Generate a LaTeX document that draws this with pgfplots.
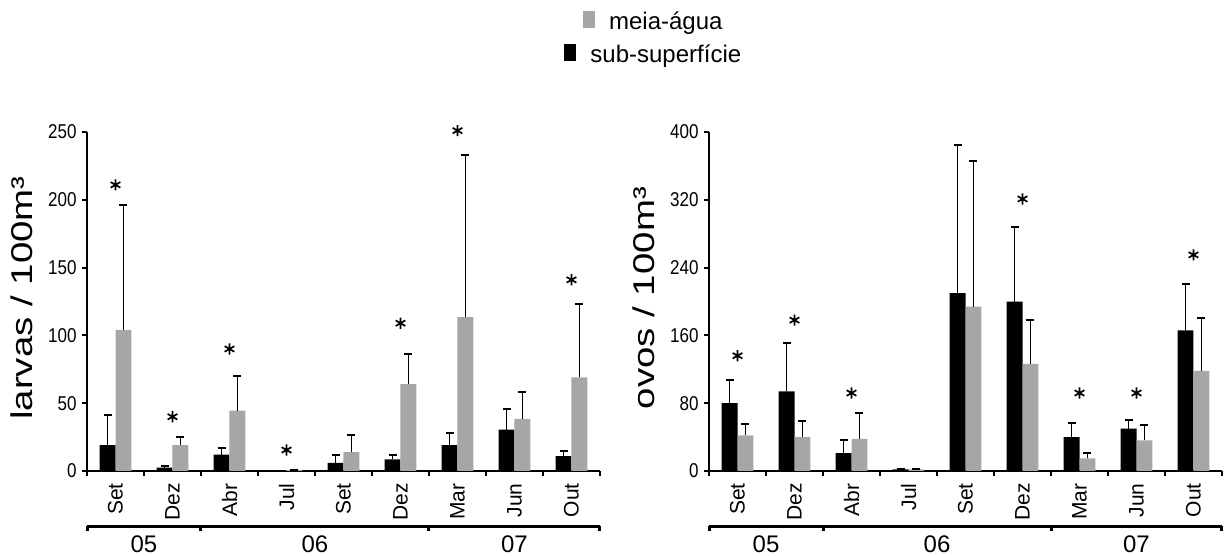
\documentclass[border=0pt]{standalone}
\usepackage{fontspec}
\setmainfont{Liberation Sans}
\usepackage{pgfplots}
\usepackage{pgfplotstable}
\pgfplotsset{compat=1.18}
\definecolor{MeiaGray}{HTML}{A6A6A6}

% x: sample index, sub / meia: mean, sube / meiae: upper error
\pgfplotstableread{
x sub  sube meia  meiae
0 19   22   104   92
1 2.5  1    19    6
2 12   5    44.5  25.5
3 0    0    0.7   0.3
4 6    6    14    12.5
5 8.5  3.5  64    22
6 19   9    113.5 119.5
7 30.5 15.5 38.5  19.5
8 11   4    69    54
}\larvas
\pgfplotstableread{
x sub  sube meia  meiae
0 80   27   42    13
1 94   57   40    18.5
2 21   16   38    31
3 2    0    2     0
4 210  175  194   172
5 200  88   126.5 52
6 40   16.5 15    6
7 50   10.5 36    18.5
8 166  54.5 118   62.5
}\ovos

\pgfplotsset{
  panel/.style={
    scale only axis, width=256.5pt, height=169.5pt, anchor=south west,
    xmin=-0.5, xmax=8.5, ymin=0, enlargelimits=false, clip=false,
    axis x line=bottom, axis y line=left,
    axis line style={-, line width=1.1pt, black},
    tick align=outside, major tick length=2.5pt,
    tick style={line width=1pt, black},
    xtick={-0.5,0.5,...,8.5}, xticklabels={},
    extra x ticks={0,...,8},
    extra x tick labels={Set,Dez,Abr,Jul,Set,Dez,Mar,Jun,Out},
    extra x tick style={major tick length=0pt},
    xticklabel style={rotate=90, anchor=east, inner sep=0pt,
      font=\fontsize{10.5}{12}\selectfont, xshift=-6pt},
    /pgf/number format/assume math mode=true,
    yticklabel style={font=\fontsize{10}{11}\selectfont, xscale=0.85,
      inner sep=0pt, anchor=east, xshift=-3pt},
    ylabel style={at={(axis description cs:-0.107,0.51)}, anchor=base,
      font=\fontsize{15}{16}\selectfont, xscale=1.28},
  },
  years/.style={
    scale only axis, width=256.5pt, height=4pt, anchor=south west,
    xmin=-0.5, xmax=8.5, ymin=0, ymax=1, enlargelimits=false,
    axis x line=bottom, axis y line=none,
    axis line style={-, line width=1.5pt, black},
    xtick={0.5,3.5,7}, xticklabels={05,06,07},
    major tick length=0pt,
    minor xtick={-0.5,1.5,5.5,8.5}, minor tick length=2.5pt,
    tick align=outside, minor tick style={line width=1.5pt, black},
    xticklabel style={font=\fontsize{12}{14}\selectfont, anchor=north,
      inner sep=0pt, yshift=-4.5pt},
  },
  subbar/.style={ybar, bar width=7.98pt, bar shift=-3.99pt, fill=black, draw=none},
  meiabar/.style={ybar, bar width=7.98pt, bar shift=3.99pt, fill=MeiaGray, draw=none},
  err/.style={error bars/.cd, y dir=plus, y explicit,
    error bar style={line width=0.5pt, black, xshift=#1},
    error mark options={rotate=90, line width=1pt, mark size=2pt, black}},
  star/.style={only marks, mark=asterisk, mark size=2.8pt,
    mark options={line width=0.85pt, black}},
}

\begin{document}
\begin{tikzpicture}
\path[use as bounding box] (0,0) rectangle (615pt,278pt);

\begin{axis}[panel, at={(43.5pt,42.5pt)}, ymax=250, ytick={0,50,...,250},
  ylabel={larvas / 100m³},
  legend style={at={(axis description cs:1.103,1.277)}, anchor=center,
    draw=none, fill=none, font=\fontsize{12}{14}\selectfont, row sep=2pt},
  legend cell align=center]
\addlegendimage{empty legend}
\addlegendentry{\textcolor{MeiaGray}{\rule[0.5pt]{6pt}{8.5pt}}\hspace{7pt}meia-água}
\addlegendimage{empty legend}
\addlegendentry{\textcolor{black}{\rule[0.5pt]{6pt}{8.5pt}}\hspace{7pt}sub-superfície}
\addplot[subbar, err=-3.99pt] table[x=x, y=sub, y error=sube] {\larvas};
\addplot[meiabar, err=3.99pt] table[x=x, y=meia, y error=meiae] {\larvas};
\addplot[star] coordinates {(0,211) (1,40) (2,90) (3,15.5) (5,109) (6,251) (8,141)};
\end{axis}

\begin{axis}[panel, at={(354.5pt,42.5pt)}, ymax=400, ytick={0,80,...,400},
  ylabel={ovos / 100m³}]
\addplot[subbar, err=-3.99pt] table[x=x, y=sub, y error=sube] {\ovos};
\addplot[meiabar, err=3.99pt] table[x=x, y=meia, y error=meiae] {\ovos};
\addplot[star] coordinates {(0,136) (1,178) (2,92) (5,321) (6,92) (7,92) (8,255)};
\end{axis}

\begin{axis}[years, at={(43.5pt,15pt)}]
\addplot[draw=none] coordinates {(0,0)};
\end{axis}
\begin{axis}[years, at={(354.5pt,15pt)}]
\addplot[draw=none] coordinates {(0,0)};
\end{axis}
\end{tikzpicture}
\end{document}
